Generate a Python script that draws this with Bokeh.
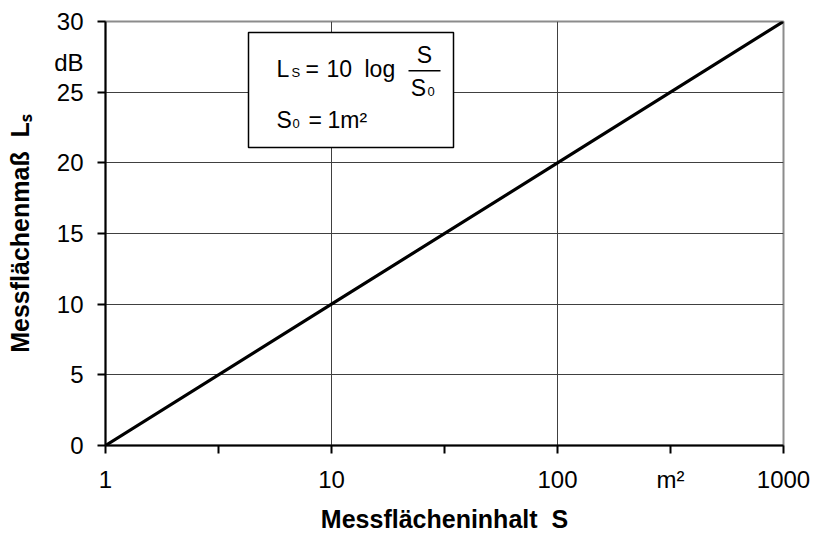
from bokeh.plotting import figure
from bokeh.models import FixedTicker, Label, BoxAnnotation, ColumnDataSource
from bokeh.embed import file_html
from bokeh.resources import INLINE

# ---- data ----
area = [1, 10, 100, 1000]          # Messflächeninhalt S in m²
level = [0, 10, 20, 30]            # Messflächenmaß L_S in dB
x_ticks = [1, 10, 100, 1000]
x_tick_labels = ["1", "10", "100", "1000"]
x_minor = [3.1623, 31.623, 316.23]
y_ticks = [0, 5, 10, 15, 20, 25, 30]
x_unit, x_unit_pos = "m²", 316.23
y_unit, y_unit_pos = "dB", 27.1

FONT = "Liberation Sans"
W, H = 813, 536
FL, FR, FT, FB = 105, 783, 21, 445   # frame edges in canvas px
TY = -8                              # baseline correction for labels

p = figure(width=W, height=H, x_axis_type="log", x_range=(1, 1000), y_range=(0, 30),
           output_backend="svg", toolbar_location=None,
           min_border_left=FL, min_border_right=W - FR, min_border_top=FT,
           min_border_bottom=H - FB)
p.background_fill_color = "white"
p.border_fill_color = "white"
p.outline_line_color = "#8c8c8c"
p.outline_line_width = 2

src = ColumnDataSource(dict(x=area, y=level))
p.line("x", "y", source=src, line_color="black", line_width=3.2)

for ax in (p.xaxis[0], p.yaxis[0]):
    ax.axis_line_color = "black"
    ax.axis_line_width = 2
    ax.major_tick_line_color = None      # tick marks drawn as "minor" ticks
    ax.minor_tick_line_color = "black"
    ax.minor_tick_line_width = 2
    ax.minor_tick_out = 8
    ax.minor_tick_in = 0
    ax.major_label_text_font = FONT
    ax.major_label_text_font_size = "24px"
    ax.major_label_text_color = "black"
    ax.axis_label_text_font = FONT
    ax.axis_label_text_font_size = "25px"
    ax.axis_label_text_font_style = "bold"
    ax.axis_label_text_color = "black"

p.xaxis.ticker = FixedTicker(ticks=x_ticks + [x_unit_pos],
                             minor_ticks=sorted(x_ticks + x_minor))
ov = {t: s for t, s in zip(x_ticks, x_tick_labels)}
ov[x_unit_pos] = x_unit
p.xaxis.major_label_overrides = ov
p.xaxis.major_label_standoff = 12
p.xaxis.axis_label = "Messflächeninhalt \u00a0S"
p.xaxis.axis_label_standoff = 9

p.yaxis.ticker = FixedTicker(ticks=y_ticks + [y_unit_pos], minor_ticks=y_ticks)
p.yaxis.major_label_overrides = {y_unit_pos: y_unit}
p.yaxis.major_label_standoff = 14
p.yaxis.axis_label = "Messflächenmaß \u00a0Lₛ"
p.yaxis.axis_label_standoff = 17

p.xgrid.ticker = FixedTicker(ticks=[10, 100])
p.ygrid.ticker = FixedTicker(ticks=[5, 10, 15, 20, 25])
p.xgrid.grid_line_color = "#404040"
p.ygrid.grid_line_color = "#404040"


def lab(text, px, py, size, align="left", baseline="alphabetic"):
    # screen units relative to the frame's bottom-left corner
    p.add_layout(Label(x=px - FL, y=FB - (py + TY), x_units="screen", y_units="screen",
                       text=text, text_font=FONT,
                       text_font_size=f"{size}px", text_align=align,
                       text_baseline=baseline, text_color="black"))


def box(l, r, t, b, **kw):
    p.add_layout(BoxAnnotation(left=l - FL, right=r - FL, top=FB - t, bottom=FB - b,
                               left_units="screen", right_units="screen",
                               top_units="screen", bottom_units="screen", **kw))


# formula box
box(248, 453, 32, 147, fill_color="white", fill_alpha=1.0, line_color="black",
    line_alpha=1.0, line_width=1.5)
lab("L", 276, 76, 23)
lab("S", 291, 80, 13)
lab("=", 305, 76, 23)
lab("10", 326, 76, 23)
lab("log", 364, 76, 23)
box(408, 440, 69.5, 71, fill_color="black", fill_alpha=1.0, line_color=None)
lab("S", 424, 62, 23, align="center")
lab("S", 418, 95, 23, align="center")
lab("0", 427, 99, 13)
lab("S", 276, 127, 23)
lab("0", 292, 131, 13)
lab("=", 308, 127, 23)
lab("1m²", 327, 127, 23)

open("out.html", "w").write(file_html(p, INLINE))
